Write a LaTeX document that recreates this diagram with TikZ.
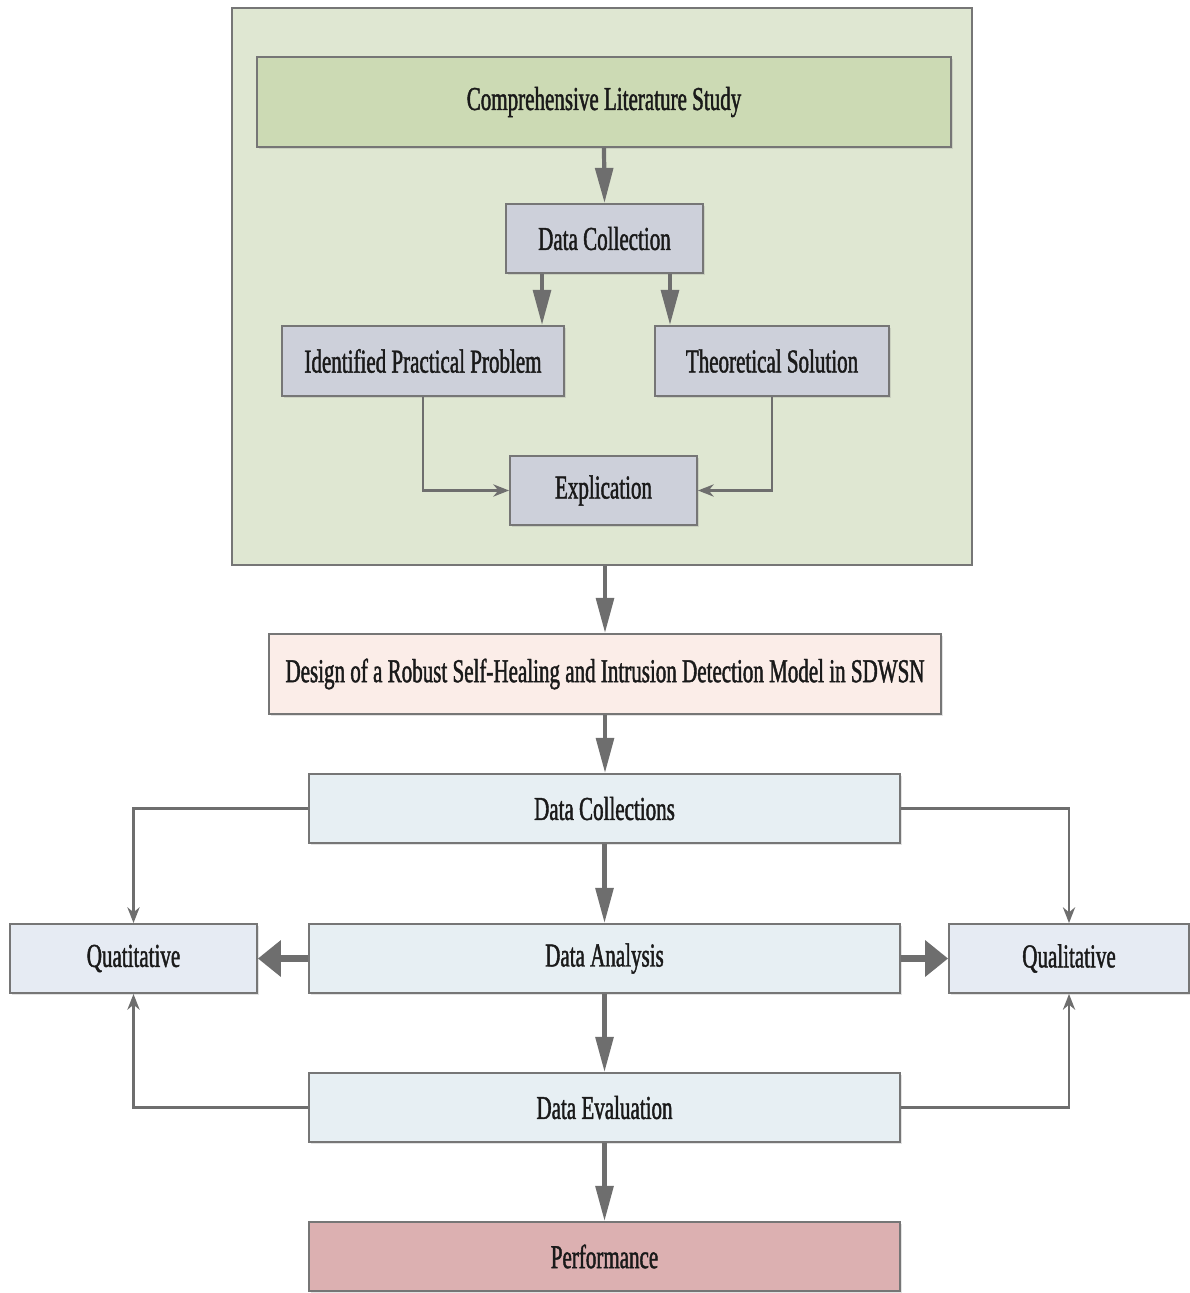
\documentclass[tikz,border=0pt]{standalone}
\usepackage{fontspec}
\setmainfont[FakeStretch=0.63,FakeBold=1.3]{Liberation Serif}
\usetikzlibrary{arrows.meta,shadows}

\definecolor{linegray}{HTML}{6E6E6E}
\definecolor{framegray}{HTML}{767676}
\definecolor{outergreen}{HTML}{DFE7D2}
\definecolor{litgreen}{HTML}{CCDAB4}
\definecolor{stepgray}{HTML}{CDD0DA}
\definecolor{designpeach}{HTML}{FBEDE8}
\definecolor{flowblue}{HTML}{E7EFF3}
\definecolor{sideblue}{HTML}{E6EBF3}
\definecolor{perfrose}{HTML}{DCB0B1}
\definecolor{textdark}{HTML}{1A1A1A}

\tikzset{
  box/.style={draw=framegray, line width=1.1pt, inner sep=0pt, align=center,
    text=textdark, font=\fontsize{19}{20}\selectfont,
    drop shadow={shadow xshift=1.3pt, shadow yshift=-1.3pt, opacity=0.22}},
  bigv/.style={draw=linegray, line width=2.4pt,
    -{Triangle[width=10pt,length=20pt]}, color=linegray},
  bigh/.style={draw=linegray, line width=3.6pt,
    -{Triangle[width=20pt,length=13pt]}, color=linegray},
  thinarrow/.style={draw=linegray, line width=1.2pt,
    -{Stealth[width=7pt,length=9pt]}, color=linegray},
}

\begin{document}
\begin{tikzpicture}[x=0.02cm, y=-0.02cm]
  \useasboundingbox (0,0) rectangle (1189,1293);

  % research stage container
  \node[draw=framegray, line width=1.1pt, fill=outergreen, inner sep=0pt,
        minimum width=14.8cm, minimum height=11.14cm] (stage) at (602,286.5) {};

  \node[box, fill=litgreen, minimum width=13.88cm, minimum height=1.8cm]
    (lit) at (604,102) {Comprehensive Literature Study};
  \node[box, fill=stepgray, minimum width=3.94cm, minimum height=1.38cm]
    (collect) at (604.5,238.5) {Data Collection};
  \node[box, fill=stepgray, minimum width=5.64cm, minimum height=1.4cm]
    (problem) at (423,361) {Identified Practical Problem};
  \node[box, fill=stepgray, minimum width=4.68cm, minimum height=1.4cm]
    (theory) at (772,361) {Theoretical Solution};
  \node[box, fill=stepgray, minimum width=3.74cm, minimum height=1.38cm]
    (explic) at (603.5,490.5) {Explication};

  % model and evaluation chain
  \node[box, fill=designpeach, minimum width=13.44cm, minimum height=1.6cm]
    (design) at (605,674) {Design of a Robust Self-Healing and Intrusion Detection Model in SDWSN};
  \node[box, fill=flowblue, minimum width=11.82cm, minimum height=1.38cm]
    (dcs) at (604.5,808.5) {Data Collections};
  \node[box, fill=flowblue, minimum width=11.82cm, minimum height=1.38cm]
    (analysis) at (604.5,958.5) {Data Analysis};
  \node[box, fill=flowblue, minimum width=11.82cm, minimum height=1.38cm]
    (evaluation) at (604.5,1107.5) {Data Evaluation};
  \node[box, fill=perfrose, minimum width=11.82cm, minimum height=1.38cm]
    (perf) at (604.5,1256.5) {Performance};
  \node[box, fill=sideblue, minimum width=4.94cm, minimum height=1.38cm]
    (quant) at (133.5,958.5) {Quatitative};
  \node[box, fill=sideblue, minimum width=4.8cm, minimum height=1.38cm]
    (qual) at (1069,958.5) {Qualitative};

  % connectors inside the container
  \draw[bigv] (lit.south) -- (collect.north);
  \draw[bigv] ([xshift=-1.25cm]collect.south) -- ([xshift=-1.25cm]collect.south |- problem.north);
  \draw[bigv] ([xshift=1.31cm]collect.south) -- ([xshift=1.31cm]collect.south |- theory.north);
  \draw[thinarrow] (problem.south) |- (explic.west);
  \draw[thinarrow] (theory.south) |- (explic.east);

  % main vertical flow
  \draw[bigv] (stage.south -| design.north) -- (design.north);
  \draw[bigv] (design.south) -- (design.south |- dcs.north);
  \draw[bigv] (dcs.south) -- (analysis.north);
  \draw[bigv] (analysis.south) -- (evaluation.north);
  \draw[bigv] (evaluation.south) -- (perf.north);

  % branches to the two analysis types
  \draw[bigh] (analysis.west) -- (quant.east);
  \draw[bigh] (analysis.east) -- (qual.west);
  \draw[thinarrow] (dcs.west) -| (quant.north);
  \draw[thinarrow] (dcs.east) -| (qual.north);
  \draw[thinarrow] (evaluation.west) -| (quant.south);
  \draw[thinarrow] (evaluation.east) -| (qual.south);
\end{tikzpicture}
\end{document}
